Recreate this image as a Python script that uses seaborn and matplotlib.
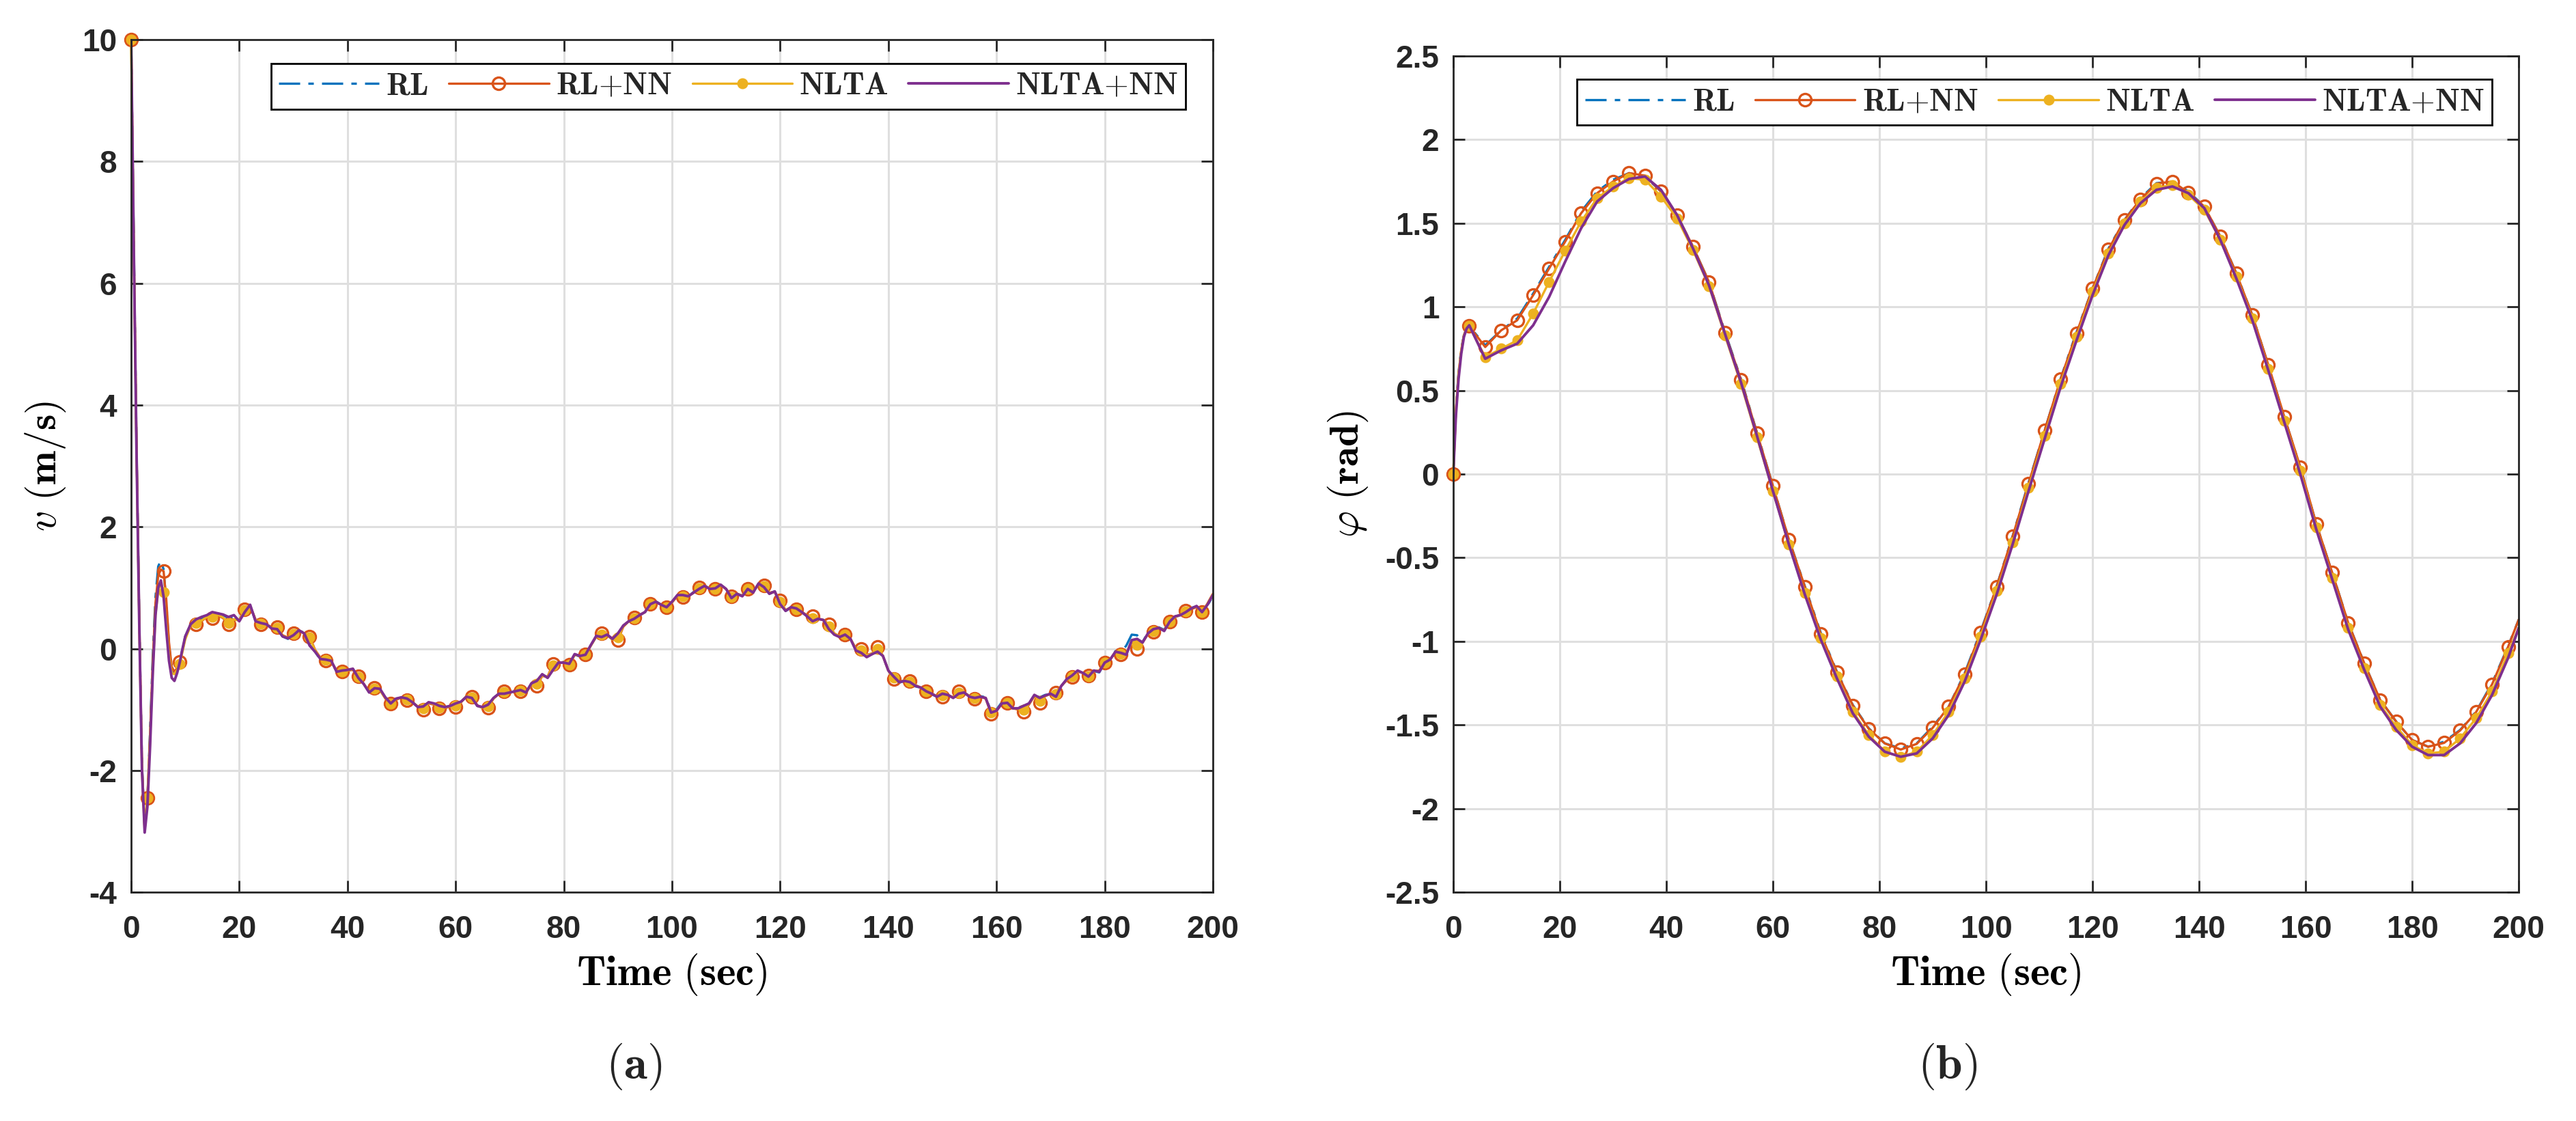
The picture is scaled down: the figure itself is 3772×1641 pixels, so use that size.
"""
Two panel comparison: speed v and heading phi for RL, RL+NN, NLTA, NLTA+NN.
"""

import numpy as np
import matplotlib
matplotlib.use("Agg")
import matplotlib.pyplot as plt
import matplotlib.ticker as ticker
import seaborn as sns

# ============================================================
# DATA
# ============================================================
# panel (a): half-second samples up to 10 s, then one per second
T_A = np.r_[np.arange(0, 10, 0.5), np.arange(10, 201, 1)]

RL_V = [10.0, 6.6, 3.3, 0.5, -1.9, -2.95, -2.5, -1.35, -0.1, 0.85, 1.35, 1.45, 1.3, 0.75, 0.05, -0.3, -0.4, -0.32, -0.2, 0.0, 0.2,
        0.40, 0.47, 0.50, 0.55, 0.58, 0.58, 0.55, 0.50, 0.53, 0.46,
        0.62, 0.70, 0.46, 0.42, 0.40, 0.34, 0.33, 0.20, 0.16, 0.23,
        0.30, 0.26, 0.06, -0.05, -0.18, -0.18, -0.21, -0.38, -0.37, -0.35,
        -0.34, -0.47, -0.58, -0.71, -0.66, -0.67, -0.80, -0.90, -0.83, -0.80,
        -0.83, -0.88, -0.95, -0.96, -0.88, -0.90, -0.95, -0.96, -0.95, -0.91,
        -0.87, -0.79, -0.80, -0.94, -0.97, -0.93, -0.81, -0.74, -0.73, -0.72,
        -0.70, -0.69, -0.72, -0.58, -0.54, -0.43, -0.47, -0.33, -0.23, -0.22,
        -0.25, -0.10, -0.13, -0.10, 0.05, 0.20, 0.20, 0.23, 0.15, 0.22,
        0.37, 0.45, 0.50, 0.55, 0.60, 0.73, 0.78, 0.72, 0.67, 0.77,
        0.87, 0.88, 0.86, 0.93, 0.98, 1.04, 0.98, 0.99, 1.04, 0.97,
        0.84, 0.90, 0.87, 0.98, 0.93, 1.06, 1.02, 0.91, 0.94, 0.74,
        0.62, 0.67, 0.65, 0.60, 0.53, 0.47, 0.49, 0.47, 0.34, 0.24,
        0.19, 0.23, 0.16, -0.02, -0.06, -0.13, -0.09, -0.04, -0.12, -0.36,
        -0.47, -0.56, -0.53, -0.56, -0.62, -0.64, -0.70, -0.75, -0.79, -0.74,
        -0.76, -0.80, -0.73, -0.72, -0.78, -0.81, -0.78, -0.80, -1.03, -1.00,
        -0.88, -0.89, -0.97, -0.97, -0.94, -0.90, -0.77, -0.80, -0.76, -0.75,
        -0.80, -0.62, -0.50, -0.45, -0.37, -0.41, -0.47, -0.37, -0.39, -0.24,
        -0.17, -0.04, -0.06, 0.05, 0.23, 0.22, 0.11, 0.26, 0.31, 0.35,
        0.31, 0.45, 0.52, 0.55, 0.61, 0.67, 0.69, 0.61, 0.71, 0.86]

RL_NN_V = [10.0, 6.5, 3.3, 0.5, -1.9, -2.95, -2.45, -1.4, -0.2, 0.75, 1.2, 1.3, 1.27, 0.8, 0.1, -0.3, -0.38, -0.32, -0.22, -0.02, 0.18,
           0.38, 0.40, 0.45, 0.52, 0.50, 0.55, 0.50, 0.40, 0.48, 0.47,
           0.65, 0.70, 0.48, 0.40, 0.40, 0.35, 0.35, 0.22, 0.18, 0.25,
           0.30, 0.25, 0.20, -0.02, -0.15, -0.20, -0.22, -0.36, -0.38, -0.36,
           -0.35, -0.45, -0.58, -0.70, -0.65, -0.68, -0.82, -0.90, -0.84, -0.80,
           -0.85, -0.88, -0.95, -1.00, -0.90, -0.92, -0.98, -0.98, -0.95, -0.96,
           -0.88, -0.78, -0.79, -0.93, -0.97, -0.97, -0.82, -0.74, -0.70, -0.72,
           -0.70, -0.70, -0.72, -0.60, -0.61, -0.45, -0.46, -0.25, -0.24, -0.22,
           -0.26, -0.10, -0.12, -0.09, 0.05, 0.20, 0.25, 0.22, 0.15, 0.14,
           0.36, 0.45, 0.51, 0.55, 0.60, 0.73, 0.76, 0.72, 0.68, 0.76,
           0.86, 0.85, 0.86, 0.92, 1.00, 1.03, 0.99, 0.98, 1.04, 0.98,
           0.86, 0.90, 0.87, 0.98, 0.94, 1.06, 1.04, 0.92, 0.93, 0.79,
           0.63, 0.68, 0.64, 0.60, 0.55, 0.53, 0.49, 0.47, 0.40, 0.25,
           0.20, 0.23, 0.16, 0.00, -0.01, -0.10, -0.08, 0.03, -0.12, -0.36,
           -0.50, -0.55, -0.52, -0.53, -0.60, -0.64, -0.70, -0.74, -0.78, -0.79,
           -0.76, -0.80, -0.70, -0.72, -0.78, -0.82, -0.79, -0.82, -1.07, -1.02,
           -0.90, -0.89, -0.98, -1.00, -1.04, -0.92, -0.78, -0.89, -0.78, -0.74,
           -0.72, -0.61, -0.52, -0.46, -0.38, -0.40, -0.44, -0.37, -0.36, -0.23,
           -0.18, -0.06, -0.09, -0.09, 0.12, -0.01, 0.10, 0.24, 0.27, 0.34,
           0.30, 0.44, 0.52, 0.56, 0.62, 0.65, 0.68, 0.60, 0.74, 0.90]

NLTA_V = [10.0, 6.5, 3.2, 0.4, -2.0, -3.0, -2.45, -1.5, -0.35, 0.55, 0.95, 1.08, 0.92, 0.4, -0.1, -0.4, -0.42, -0.35, -0.25, -0.05, 0.15,
          0.38, 0.42, 0.46, 0.52, 0.52, 0.56, 0.51, 0.42, 0.48, 0.46,
          0.63, 0.70, 0.47, 0.41, 0.40, 0.34, 0.34, 0.21, 0.17, 0.24,
          0.30, 0.25, 0.18, -0.03, -0.16, -0.19, -0.21, -0.37, -0.38, -0.36,
          -0.34, -0.46, -0.58, -0.71, -0.66, -0.68, -0.81, -0.90, -0.83, -0.80,
          -0.84, -0.88, -0.95, -0.98, -0.89, -0.91, -0.97, -0.97, -0.95, -0.94,
          -0.88, -0.78, -0.80, -0.94, -0.97, -0.95, -0.82, -0.74, -0.71, -0.72,
          -0.70, -0.69, -0.72, -0.59, -0.58, -0.44, -0.47, -0.28, -0.24, -0.22,
          -0.26, -0.10, -0.12, -0.10, 0.05, 0.20, 0.23, 0.22, 0.15, 0.18,
          0.37, 0.45, 0.50, 0.55, 0.60, 0.73, 0.77, 0.72, 0.68, 0.76,
          0.87, 0.86, 0.86, 0.92, 0.99, 1.03, 0.99, 0.98, 1.04, 0.98,
          0.85, 0.90, 0.87, 0.98, 0.93, 1.06, 1.03, 0.91, 0.93, 0.77,
          0.63, 0.68, 0.65, 0.60, 0.54, 0.50, 0.49, 0.47, 0.37, 0.25,
          0.20, 0.23, 0.16, 0.00, -0.03, -0.11, -0.08, 0.00, -0.12, -0.36,
          -0.48, -0.55, -0.52, -0.54, -0.60, -0.64, -0.70, -0.74, -0.78, -0.77,
          -0.76, -0.80, -0.72, -0.72, -0.78, -0.81, -0.79, -0.81, -1.05, -1.02,
          -0.90, -0.89, -0.98, -0.99, -1.00, -0.91, -0.77, -0.86, -0.78, -0.74,
          -0.75, -0.61, -0.51, -0.45, -0.37, -0.40, -0.45, -0.37, -0.37, -0.23,
          -0.18, -0.05, -0.08, -0.09, 0.13, 0.06, 0.10, 0.24, 0.29, 0.34,
          0.30, 0.44, 0.52, 0.55, 0.61, 0.66, 0.69, 0.60, 0.73, 0.89]

NLTA_NN_V = [10.0, 6.5, 3.2, 0.4, -2.0, -3.02, -2.6, -1.6, -0.4, 0.55, 1.0, 1.12, 0.85, 0.3, -0.2, -0.48, -0.53, -0.4, -0.22, 0.0, 0.2,
             0.40, 0.48, 0.52, 0.55, 0.60, 0.58, 0.56, 0.52, 0.55, 0.45,
             0.60, 0.72, 0.45, 0.42, 0.40, 0.33, 0.32, 0.20, 0.17, 0.22,
             0.30, 0.25, 0.05, -0.05, -0.17, -0.18, -0.20, -0.38, -0.36, -0.35,
             -0.33, -0.48, -0.58, -0.72, -0.65, -0.66, -0.80, -0.90, -0.82, -0.80,
             -0.82, -0.88, -0.96, -0.95, -0.88, -0.90, -0.94, -0.96, -0.94, -0.90,
             -0.87, -0.79, -0.81, -0.94, -0.96, -0.92, -0.81, -0.74, -0.74, -0.72,
             -0.70, -0.68, -0.72, -0.57, -0.53, -0.42, -0.48, -0.35, -0.23, -0.23,
             -0.25, -0.09, -0.12, -0.10, 0.06, 0.21, 0.19, 0.23, 0.16, 0.25,
             0.38, 0.45, 0.49, 0.55, 0.60, 0.73, 0.77, 0.72, 0.68, 0.77,
             0.88, 0.88, 0.86, 0.92, 0.98, 1.03, 0.98, 0.99, 1.05, 0.98,
             0.83, 0.90, 0.86, 0.98, 0.92, 1.07, 1.01, 0.90, 0.94, 0.73,
             0.62, 0.68, 0.66, 0.60, 0.53, 0.45, 0.49, 0.47, 0.32, 0.23,
             0.19, 0.23, 0.16, -0.03, -0.07, -0.14, -0.09, -0.05, -0.12, -0.36,
             -0.46, -0.55, -0.53, -0.55, -0.61, -0.64, -0.70, -0.74, -0.79, -0.74,
             -0.76, -0.81, -0.74, -0.72, -0.79, -0.81, -0.79, -0.81, -1.05, -1.02,
             -0.90, -0.89, -0.98, -0.98, -0.94, -0.90, -0.76, -0.81, -0.77, -0.74,
             -0.79, -0.61, -0.50, -0.44, -0.36, -0.40, -0.46, -0.36, -0.38, -0.23,
             -0.18, -0.05, -0.07, -0.10, 0.14, 0.16, 0.10, 0.25, 0.32, 0.34,
             0.29, 0.44, 0.53, 0.55, 0.60, 0.66, 0.70, 0.60, 0.72, 0.88]

# panel (b): fine steps over the first 3 s, then every 3 s
T_B = np.r_[np.arange(0, 3, 0.5), np.arange(3, 199, 3), 200]

RL_P = [0.0, 0.39, 0.61, 0.75, 0.83, 0.87,
        0.885, 0.77, 0.86, 0.93, 1.08, 1.24, 1.40, 1.57, 1.69, 1.76, 1.80, 1.78, 1.69, 1.55,
        1.36, 1.15, 0.85, 0.57, 0.25, -0.07, -0.39, -0.67, -0.95, -1.18,
        -1.38, -1.52, -1.61, -1.64, -1.61, -1.51, -1.39, -1.19, -0.94, -0.67,
        -0.37, -0.05, 0.26, 0.57, 0.85, 1.11, 1.35, 1.52, 1.65, 1.74,
        1.75, 1.69, 1.60, 1.42, 1.20, 0.95, 0.65, 0.34, 0.04, -0.30,
        -0.59, -0.89, -1.13, -1.35, -1.48, -1.59, -1.63, -1.60, -1.53, -1.42,
        -1.25, -1.03, -0.87]

RL_NN_P = [0.0, 0.38, 0.60, 0.74, 0.83, 0.87,
           0.885, 0.76, 0.86, 0.92, 1.07, 1.23, 1.39, 1.56, 1.68, 1.75, 1.80, 1.785, 1.69, 1.55,
           1.36, 1.15, 0.845, 0.566, 0.247, -0.07, -0.39, -0.673, -0.957, -1.183,
           -1.383, -1.523, -1.61, -1.647, -1.613, -1.517, -1.39, -1.197, -0.947, -0.673,
           -0.373, -0.057, 0.26, 0.567, 0.843, 1.11, 1.343, 1.52, 1.643, 1.737,
           1.75, 1.683, 1.60, 1.42, 1.20, 0.95, 0.653, 0.343, 0.043, -0.297,
           -0.59, -0.89, -1.13, -1.35, -1.48, -1.59, -1.63, -1.607, -1.533, -1.423,
           -1.257, -1.033, -0.87]

NLTA_P = [0.0, 0.38, 0.60, 0.74, 0.83, 0.87,
          0.885, 0.70, 0.75, 0.80, 0.96, 1.15, 1.335, 1.51, 1.65, 1.72, 1.77, 1.76, 1.66, 1.53,
          1.34, 1.125, 0.83, 0.54, 0.22, -0.10, -0.42, -0.71, -0.98, -1.21,
          -1.42, -1.56, -1.66, -1.69, -1.66, -1.56, -1.42, -1.22, -0.97, -0.70,
          -0.41, -0.08, 0.23, 0.54, 0.82, 1.09, 1.32, 1.50, 1.63, 1.71,
          1.73, 1.67, 1.58, 1.40, 1.18, 0.93, 0.63, 0.32, 0.02, -0.32,
          -0.62, -0.92, -1.16, -1.38, -1.51, -1.62, -1.67, -1.66, -1.58, -1.46,
          -1.30, -1.07, -0.92]

NLTA_NN_P = [0.0, 0.35, 0.57, 0.72, 0.82, 0.87,
             0.89, 0.69, 0.74, 0.78, 0.89, 1.06, 1.27, 1.47, 1.63, 1.71, 1.765, 1.78, 1.70, 1.55,
             1.35, 1.13, 0.84, 0.55, 0.23, -0.10, -0.42, -0.72, -0.99, -1.22,
             -1.43, -1.57, -1.66, -1.69, -1.67, -1.58, -1.44, -1.24, -0.99, -0.72,
             -0.42, -0.10, 0.21, 0.52, 0.80, 1.07, 1.31, 1.49, 1.62, 1.70,
             1.72, 1.68, 1.59, 1.40, 1.17, 0.92, 0.62, 0.31, 0.00, -0.33,
             -0.63, -0.93, -1.17, -1.39, -1.53, -1.63, -1.68, -1.68, -1.61, -1.49,
             -1.32, -1.10, -0.92]

for arr in (RL_V, RL_NN_V, NLTA_V, NLTA_NN_V):
    assert len(arr) == len(T_A), len(arr)
for arr in (RL_P, RL_NN_P, NLTA_P, NLTA_NN_P):
    assert len(arr) == len(T_B), len(arr)

LABELS = [r"$\mathbf{RL}$", r"$\mathbf{RL{+}NN}$", r"$\mathbf{NLTA}$", r"$\mathbf{NLTA{+}NN}$"]

# ============================================================
# STYLE
# ============================================================
DPI = 200
sns.set_style("ticks")
plt.rcParams.update({
    "font.family": ["Liberation Sans", "DejaVu Sans"],
    "font.weight": "bold",
    "mathtext.fontset": "cm",
    "axes.unicode_minus": False,
    "axes.edgecolor": "#262626",
    "axes.linewidth": 1.0,
})

COLORS = ["#0072BD", "#D95319", "#EDB120", "#7E2F8E"]
GRID_C = "#DFDFDF"
TXT_C = "#262626"


def draw_panel(ax, t, series, ylim, yticks):
    marks = [i for i, ti in enumerate(t) if ti % 3 == 0]
    # RL : dash-dot
    sns.lineplot(x=t, y=series[0], ax=ax, color=COLORS[0], lw=1.2, estimator=None,
                 sort=False, label=LABELS[0])
    ax.lines[-1].set_dashes([9.3, 3.6, 2.4, 3.6])
    # RL+NN : open circles
    sns.lineplot(x=t, y=series[1], ax=ax, color=COLORS[1], lw=1.2, estimator=None,
                 sort=False, marker="o", markersize=6.5, mfc="none", mec=COLORS[1],
                 mew=1.2, markevery=marks, label=LABELS[1], clip_on=False)
    # NLTA : dots
    sns.lineplot(x=t, y=series[2], ax=ax, color=COLORS[2], lw=1.2, estimator=None,
                 sort=False, marker="o", markersize=5, mfc=COLORS[2], mec=COLORS[2],
                 markevery=marks, label=LABELS[2], clip_on=False)
    # NLTA+NN : solid
    sns.lineplot(x=t, y=series[3], ax=ax, color=COLORS[3], lw=1.4, estimator=None,
                 sort=False, label=LABELS[3])

    ax.set_xlim(0, 200)
    ax.set_ylim(*ylim)
    ax.set_xticks(np.arange(0, 201, 20))
    ax.set_yticks(yticks)
    ax.yaxis.set_major_formatter(ticker.FormatStrFormatter("%g"))
    ax.grid(True, color=GRID_C, lw=1.1)
    ax.set_axisbelow(True)
    ax.tick_params(direction="in", length=6, width=1.0, top=True, right=True,
                   labelsize=16.5, colors=TXT_C)
    ax.tick_params(axis="x", pad=12)
    ax.tick_params(axis="y", pad=7.5)
    for sp in ax.spines.values():
        sp.set_visible(True)
        sp.set_color(TXT_C)
        sp.set_linewidth(1.0)

    leg = ax.legend(loc="upper right", bbox_to_anchor=(0.975, 0.972), borderaxespad=0,
                    ncol=4, fontsize=16.5, handlelength=3.2, handletextpad=0.22,
                    columnspacing=0.65, borderpad=0.25, fancybox=False, framealpha=1,
                    edgecolor="black", numpoints=1)
    leg.get_frame().set_linewidth(1.0)


fig = plt.figure(figsize=(3773 / DPI, 1641 / DPI), dpi=DPI)
ax_a = fig.add_axes([0.0509, 0.2041, 0.4198, 0.7605])
ax_b = fig.add_axes([0.5640, 0.2041, 0.4135, 0.7459])

draw_panel(ax_a, T_A, [RL_V, RL_NN_V, NLTA_V, NLTA_NN_V], (-4, 10), np.arange(-4, 11, 2))
draw_panel(ax_b, T_B, [RL_P, RL_NN_P, NLTA_P, NLTA_NN_P], (-2.5, 2.5), np.arange(-2.5, 2.51, 0.5))

ax_a.set_xlabel(r"$\mathbf{Time\ (sec)}$", fontsize=22, color="black")
ax_a.set_ylabel(r"$v$ $\mathbf{(m/s)}$", fontsize=21.5, color="black")
ax_a.xaxis.set_label_coords(0.5, -0.070)
ax_a.yaxis.set_label_coords(-0.059, 0.5)

ax_b.set_xlabel(r"$\mathbf{Time\ (sec)}$", fontsize=22, color="black")
ax_b.set_ylabel(r"$\varphi$ $\mathbf{(rad)}$", fontsize=21.5, color="black")
ax_b.xaxis.set_label_coords(0.5, -0.071)
ax_b.yaxis.set_label_coords(-0.078, 0.5)

fig.text(928 / 3773, 1 - 1561 / 1641, r"$(\mathbf{a})$", ha="center", va="center", fontsize=25)
fig.text(2852 / 3773, 1 - 1561 / 1641, r"$(\mathbf{b})$", ha="center", va="center", fontsize=25)

fig.savefig("out.png", dpi=DPI)
plt.close(fig)
